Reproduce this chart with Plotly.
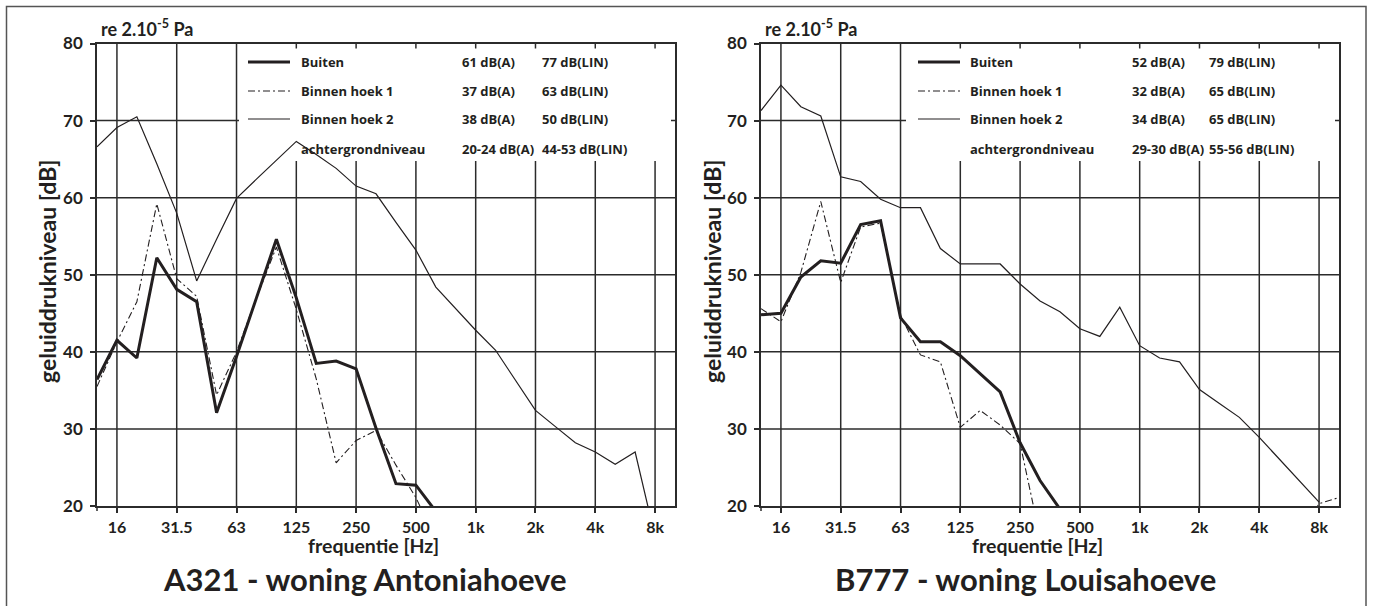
import plotly.graph_objects as go

# ---------------- data ----------------
bands = ['12.5', '16', '20', '25', '31.5', '40', '50', '63', '80', '100', '125', '160', '200',
         '250', '315', '400', '500', '630', '800', '1k', '1.25k', '1.6k', '2k', '2.5k',
         '3.15k', '4k', '5k', '6.3k', '8k', '10k']
tick_labels = ['16', '31.5', '63', '125', '250', '500', '1k', '2k', '4k', '8k']
tick_bands = ['16', '31.5', '63', '125', '250', '500', '1k', '2k', '4k', '8k']
y_ticks = [20, 30, 40, 50, 60, 70, 80]

# A321 - woning Antoniahoeve
buiten_a = [36.4, 41.5, 39.2, 52.2, 48.1, 46.5, 32.1, 39.4, 47.0, 54.6, 47.0, 38.5, 38.8,
            37.8, 30.1, 22.9, 22.7, 19.3, None, None, None, None, None, None,
            None, None, None, None, None, None]
binnen1_a = [35.5, 41.3, 46.5, 59.2, 49.5, 47.2, 34.4, 40.0, 47.0, 53.6, 45.5, 36.5, 25.6,
             28.5, 29.8, 25.3, 21.1, 15.6, None, None, None, None, None, None,
             None, None, None, None, None, None]
binnen2_a = [66.6, 69.1, 70.5, 64.4, 58.0, 49.2, 54.6, 59.9, 62.4, 64.9, 67.3, 65.6, 63.8,
             61.5, 60.5, 56.8, 53.2, 48.4, 45.6, 42.8, 40.2, 36.3, 32.4, 30.3,
             28.2, 27.0, 25.4, 27.0, 16.0, None]

# B777 - woning Louisahoeve
buiten_b = [44.8, 45.0, 49.7, 51.8, 51.5, 56.5, 57.0, 44.4, 41.3, 41.3, 39.5, 37.1, 34.8,
            28.2, 23.3, 19.6, None, None, None, None, None, None, None, None,
            None, None, None, None, None, None]
binnen1_b = [45.6, 43.9, 50.3, 59.5, 49.0, 56.2, 56.7, 44.7, 39.6, 38.7, 30.2, 32.4, 30.5,
             28.1, 16.0, None, None, None, None, None, None, None, None, None,
             None, None, None, 16.0, 20.3, 21.1]
binnen2_b = [71.3, 74.6, 71.8, 70.6, 62.7, 62.1, 59.8, 58.7, 58.7, 53.4, 51.4, 51.4, 51.4,
             48.8, 46.6, 45.2, 43.0, 42.0, 45.8, 40.8, 39.2, 38.7, 35.1, 33.3,
             31.5, 28.9, 26.1, 23.3, 20.5, None]

series_names = ['Buiten', 'Binnen hoek 1', 'Binnen hoek 2', 'achtergrondniveau']
dba_a = ['61 dB(A)', '37 dB(A)', '38 dB(A)', '20-24 dB(A)']
dblin_a = ['77 dB(LIN)', '63 dB(LIN)', '50 dB(LIN)', '44-53 dB(LIN)']
dba_b = ['52 dB(A)', '32 dB(A)', '34 dB(A)', '29-30 dB(A)']
dblin_b = ['79 dB(LIN)', '65 dB(LIN)', '65 dB(LIN)', '55-56 dB(LIN)']
titles = ['A321 - woning Antoniahoeve', 'B777 - woning Louisahoeve']

# ---------------- layout helpers ----------------
W, H = 1373, 606
FONT = 'Lato, "Open Sans", sans-serif'
LEGFONT = '"Open Sans", Lato, sans-serif'
INK = '#231f20'
GRID = '#2b2b2b'
TOP, BOT = 43.5, 506
LEG_BOT, LEG_TOP = 161, TOP + 5


def px(x):
    return x / W


def py(y):
    return 1 - y / H


xs = list(range(len(bands)))
tickvals = [bands.index(b) for b in tick_bands]

styles = [
    dict(width=3.0, dash='solid'),
    dict(width=1.1, dash='7px,3px,2px,3px'),
    dict(width=1.2, dash='solid'),
]

fig = go.Figure()

panels = [
    dict(left=97, right=675, data=[buiten_a, binnen1_a, binnen2_a], dba=dba_a, dblin=dblin_a,
         xa='x', ya='y', leg_x0=239, samp=(248, 290), lab=300, c2=461, c3=541,
         ytitle_x=47, xtitle_x=373, title_x=365),
    dict(left=761, right=1339, data=[buiten_b, binnen1_b, binnen2_b], dba=dba_b, dblin=dblin_b,
         xa='x2', ya='y2', leg_x0=906, samp=(918, 960), lab=969, c2=1131, c3=1208,
         ytitle_x=712, xtitle_x=1037, title_x=1025),
]

rows_y = [62, 91, 119, 149]

shapes = []
annotations = []
gline = dict(color=GRID, width=1.5)

for k, p in enumerate(panels):
    for s, (vals, st) in enumerate(zip(p['data'], styles)):
        fig.add_trace(go.Scatter(
            x=xs, y=vals, mode='lines', xaxis=p['xa'], yaxis=p['ya'],
            line=dict(color=INK, width=st['width'], dash=st['dash']),
            connectgaps=False, showlegend=False, hoverinfo='skip'))

    span = p['right'] - p['left']
    ph = BOT - TOP
    xd = p['xa'] + ' domain'
    yd = p['ya'] + ' domain'
    lx0 = (p['leg_x0'] - p['left']) / span
    lx1 = (p['right'] - 4 - p['left']) / span
    ly0 = (BOT - LEG_BOT) / ph
    ly1 = (BOT - LEG_TOP) / ph

    # vertical grid lines (interrupted behind the legend block)
    for t in tickvals:
        frac = t / (len(bands) - 1)
        if lx0 <= frac <= lx1:
            segs = [(0, ly0), (ly1, 1)]
        else:
            segs = [(0, 1)]
        for a, b in segs:
            shapes.append(dict(type='line', xref=p['xa'], yref=yd, x0=t, x1=t, y0=a, y1=b,
                               line=gline, layer='below'))
    # horizontal grid lines
    for v in y_ticks[1:-1]:
        frac = (v - 20) / 60
        if ly0 <= frac <= ly1:
            segs = [(0, lx0), (lx1, 1)]
        else:
            segs = [(0, 1)]
        for a, b in segs:
            shapes.append(dict(type='line', xref=xd, yref=p['ya'], x0=a, x1=b, y0=v, y1=v,
                               line=gline, layer='below'))

    # small tick at the left end of the frequency axis
    shapes.append(dict(type='line', xref=xd, yref='paper', x0=0, x1=0,
                       y0=py(BOT), y1=py(BOT + 5), line=gline))
    # legend samples
    for r in range(3):
        shapes.append(dict(type='line', xref='paper', yref='paper',
                           x0=px(p['samp'][0]), x1=px(p['samp'][1]),
                           y0=py(rows_y[r]), y1=py(rows_y[r]),
                           line=dict(color=INK, width=styles[r]['width'], dash=styles[r]['dash']),
                           layer='above'))
    for r in range(4):
        for txt, xx in [(series_names[r], p['lab']), (p['dba'][r], p['c2']), (p['dblin'][r], p['c3'])]:
            annotations.append(dict(text=txt, xref='paper', yref='paper', x=px(xx), y=py(rows_y[r]),
                                    xanchor='left', yanchor='middle', showarrow=False, borderpad=0,
                                    font=dict(family=LEGFONT, size=13, color=INK, weight='bold')))
    # "re 2.10-5 Pa"
    annotations.append(dict(text='re 2.10<sup>-5</sup> Pa', xref='paper', yref='paper',
                            x=px(p['left'] + 3), y=py(41), xanchor='left', yanchor='bottom',
                            showarrow=False, borderpad=0,
                            font=dict(family=FONT, size=18, color=INK, weight='bold')))
    # axis titles
    annotations.append(dict(text='geluiddrukniveau [dB]', xref='paper', yref='paper',
                            x=px(p['ytitle_x']), y=py(272), xanchor='center', yanchor='middle',
                            textangle=-90, showarrow=False, borderpad=0,
                            font=dict(family=FONT, size=23, color=INK, weight='bold')))
    annotations.append(dict(text='frequentie [Hz]', xref='paper', yref='paper',
                            x=px(p['xtitle_x']), y=py(545), xanchor='center', yanchor='middle',
                            showarrow=False, borderpad=0,
                            font=dict(family=FONT, size=19.5, color=INK, weight='bold')))
    annotations.append(dict(text=titles[k], xref='paper', yref='paper',
                            x=px(p['title_x']), y=py(579), xanchor='center', yanchor='middle',
                            showarrow=False, borderpad=0,
                            font=dict(family=FONT, size=31, color=INK, weight='bold')))

# outer frame
shapes.append(dict(type='rect', xref='paper', yref='paper', x0=px(6.5), x1=px(1366), y0=py(612),
                   y1=py(6.5), line=dict(color='#555', width=1.5), fillcolor='rgba(0,0,0,0)',
                   layer='below'))

axis_common = dict(showline=True, mirror=True, linecolor=GRID, linewidth=1.6,
                   showgrid=False, zeroline=False,
                   ticks='outside', ticklen=5, tickwidth=1.5, tickcolor=GRID)

layout_axes = {}
for k, p in enumerate(panels):
    sfx = '' if k == 0 else '2'
    layout_axes['xaxis' + sfx] = dict(axis_common, domain=[px(p['left']), px(p['right'])],
                                      range=[0, len(bands) - 1], tickmode='array',
                                      tickvals=tickvals, ticktext=tick_labels,
                                      anchor='y' + sfx, ticklabelstandoff=1,
                                      tickfont=dict(family=FONT, size=16, color=INK, weight='bold'))
    layout_axes['yaxis' + sfx] = dict(axis_common, domain=[py(BOT), py(TOP)], range=[20, 80],
                                      tickmode='array', tickvals=y_ticks,
                                      anchor='x' + sfx, ticklabelstandoff=4,
                                      tickfont=dict(family=FONT, size=17, color=INK, weight='bold'))

fig.update_layout(
    width=W, height=H, margin=dict(l=0, r=0, t=0, b=0, pad=0, autoexpand=False),
    paper_bgcolor='white', plot_bgcolor='white',
    shapes=shapes, annotations=annotations, showlegend=False,
    **layout_axes)

fig.write_html('out.html', config={'displayModeBar': False})
